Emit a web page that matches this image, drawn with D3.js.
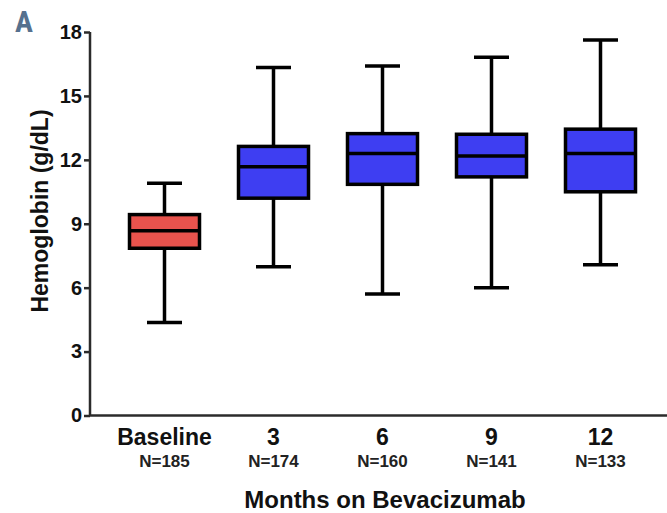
<!DOCTYPE html>
<html>
<head>
<meta charset="utf-8">
<script src="https://cdn.jsdelivr.net/npm/d3@7"></script>
<style>
  body { margin: 0; background: #fff; }
  text { font-family: "Liberation Sans", Arial, sans-serif; font-weight: bold; }
</style>
</head>
<body>
<div id="chart"></div>
<script>
// Hemoglobin box plot by months on bevacizumab

// Data
const categories = ["Baseline", "3", "6", "9", "12"];
const nLabels = ["N=185", "N=174", "N=160", "N=141", "N=133"];
const mins = [4.36, 6.98, 5.7, 6.0, 7.08];
const q1s = [7.85, 10.2, 10.85, 11.2, 10.5];
const medians = [8.67, 11.68, 12.3, 12.18, 12.3];
const q3s = [9.43, 12.63, 13.23, 13.2, 13.44];
const maxs = [10.9, 16.33, 16.4, 16.82, 17.62];
const yTicks = [0, 3, 6, 9, 12, 15, 18];

const width = 667;
const height = 513;

const svg = d3.select("#chart")
    .append("svg")
    .attr("width", width)
    .attr("height", height);

// Scales
const x = d3.scalePoint()
    .domain(categories)
    .range([110, 655])
    .padding(0.5);

const y = d3.scaleLinear()
    .domain([0, 18])
    .range([415.5, 32]);

const boxW = 70;
const capW = 35;
const color = c => c === "Baseline" ? "#e8534d" : "#3e3ef2";

// Build box records
const boxes = categories.map((c, i) => ({
    cat: c, min: mins[i], q1: q1s[i], med: medians[i], q3: q3s[i], max: maxs[i]
}));

// Y axis
const yAxis = svg.append("g")
    .attr("transform", "translate(90,0)")
    .call(d3.axisLeft(y).tickValues(yTicks).tickSize(6).tickPadding(2));
yAxis.select(".domain").attr("stroke", "#2b2b2b").attr("stroke-width", 2.5)
    .attr("d", `M0,${y(18)}V${y(0)}`);
yAxis.selectAll(".tick line").attr("stroke", "#2b2b2b").attr("stroke-width", 2.5);
yAxis.selectAll(".tick text")
    .attr("fill", "#111")
    .style("font-size", "20px")
    .style("font-family", "'Liberation Sans', Arial, sans-serif")
    .style("font-weight", "bold");

// X axis line (no ticks)
svg.append("line")
    .attr("x1", 89).attr("x2", 667)
    .attr("y1", y(0)).attr("y2", y(0))
    .attr("stroke", "#2b2b2b")
    .attr("stroke-width", 2.5);

// Category labels
svg.selectAll(".cat")
    .data(categories)
    .join("text")
    .attr("class", "cat")
    .attr("x", d => x(d))
    .attr("y", 445)
    .attr("text-anchor", "middle")
    .attr("fill", "#111")
    .style("font-size", "23px")
    .text(d => d);

svg.selectAll(".nlab")
    .data(categories)
    .join("text")
    .attr("class", "nlab")
    .attr("x", d => x(d))
    .attr("y", 467)
    .attr("text-anchor", "middle")
    .attr("fill", "#222")
    .style("font-size", "17px")
    .text((d, i) => nLabels[i]);

// Boxes
const g = svg.append("g");
const box = g.selectAll("g.box")
    .data(boxes)
    .join("g")
    .attr("class", "box");

// Whiskers
box.append("line")
    .attr("x1", d => x(d.cat)).attr("x2", d => x(d.cat))
    .attr("y1", d => y(d.max)).attr("y2", d => y(d.q3))
    .attr("stroke", "#000").attr("stroke-width", 3.5);
box.append("line")
    .attr("x1", d => x(d.cat)).attr("x2", d => x(d.cat))
    .attr("y1", d => y(d.q1)).attr("y2", d => y(d.min))
    .attr("stroke", "#000").attr("stroke-width", 3.5);
// Caps
box.append("line")
    .attr("x1", d => x(d.cat) - capW / 2).attr("x2", d => x(d.cat) + capW / 2)
    .attr("y1", d => y(d.max)).attr("y2", d => y(d.max))
    .attr("stroke", "#000").attr("stroke-width", 3.5);
box.append("line")
    .attr("x1", d => x(d.cat) - capW / 2).attr("x2", d => x(d.cat) + capW / 2)
    .attr("y1", d => y(d.min)).attr("y2", d => y(d.min))
    .attr("stroke", "#000").attr("stroke-width", 3.5);
// IQR box
box.append("rect")
    .attr("x", d => x(d.cat) - boxW / 2)
    .attr("width", boxW)
    .attr("y", d => y(d.q3))
    .attr("height", d => y(d.q1) - y(d.q3))
    .attr("fill", d => color(d.cat))
    .attr("stroke", "#000")
    .attr("stroke-width", 3.5);
// Median
box.append("line")
    .attr("x1", d => x(d.cat) - boxW / 2).attr("x2", d => x(d.cat) + boxW / 2)
    .attr("y1", d => y(d.med)).attr("y2", d => y(d.med))
    .attr("stroke", "#000").attr("stroke-width", 3.5);

// Axis titles
svg.append("text")
    .attr("transform", "translate(48,211) rotate(-90)")
    .attr("text-anchor", "middle")
    .attr("fill", "#111")
    .style("font-size", "23px")
    .text("Hemoglobin (g/dL)");

svg.append("text")
    .attr("x", 385)
    .attr("y", 508)
    .attr("text-anchor", "middle")
    .attr("fill", "#111")
    .style("font-size", "24px")
    .text("Months on Bevacizumab");

// Panel letter
svg.append("text")
    .attr("x", 15)
    .attr("y", 32)
    .attr("fill", "#56718e")
    .style("font-family", "'Liberation Sans Narrow', 'Roboto Condensed', sans-serif")
    .style("font-size", "30px")
    .text("A");
</script>
</body>
</html>
